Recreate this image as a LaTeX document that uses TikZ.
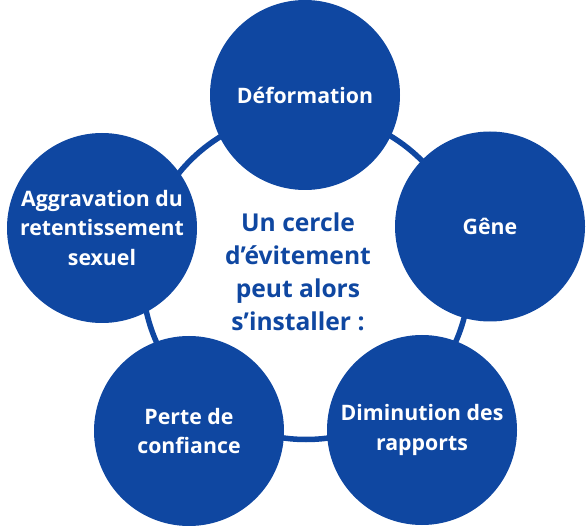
\documentclass[tikz,border=0pt]{standalone}
\usepackage{fontspec}
\setmainfont{Open Sans}
\definecolor{myblue}{HTML}{0F47A1}
\begin{document}
\begin{tikzpicture}[x=1pt,y=-1pt,
  bubble/.style={circle, fill=myblue, minimum size=190pt, inner sep=0pt,
    text=white, font=\bfseries\fontsize{21.3}{29.5}\selectfont, align=center},
  centertext/.style={text=myblue, font=\bfseries\fontsize{24.6}{33}\selectfont, align=center, inner sep=0pt},
  ring/.style={draw=myblue, line width=5.5pt}]
\useasboundingbox (0,0) rectangle (586,526);
\coordinate (c) at (306,276);
\draw[ring] (c) circle[radius=163.5];
\node[bubble] (def) at (305,95) {Déformation};
\node[bubble] (gene) at (490,226.5) {Gêne};
\node[bubble] (dim) at (422,430) {Diminution des\\rapports};
\node[bubble] (perte) at (189,431) {Perte de\\confiance};
\node[bubble] (aggr) at (102,228) {Aggravation du\\retentissement\\sexuel};
\node[centertext] (txt) at (298,272) {Un cercle\\d’évitement\\peut alors\\s’installer :};
\end{tikzpicture}
\end{document}
